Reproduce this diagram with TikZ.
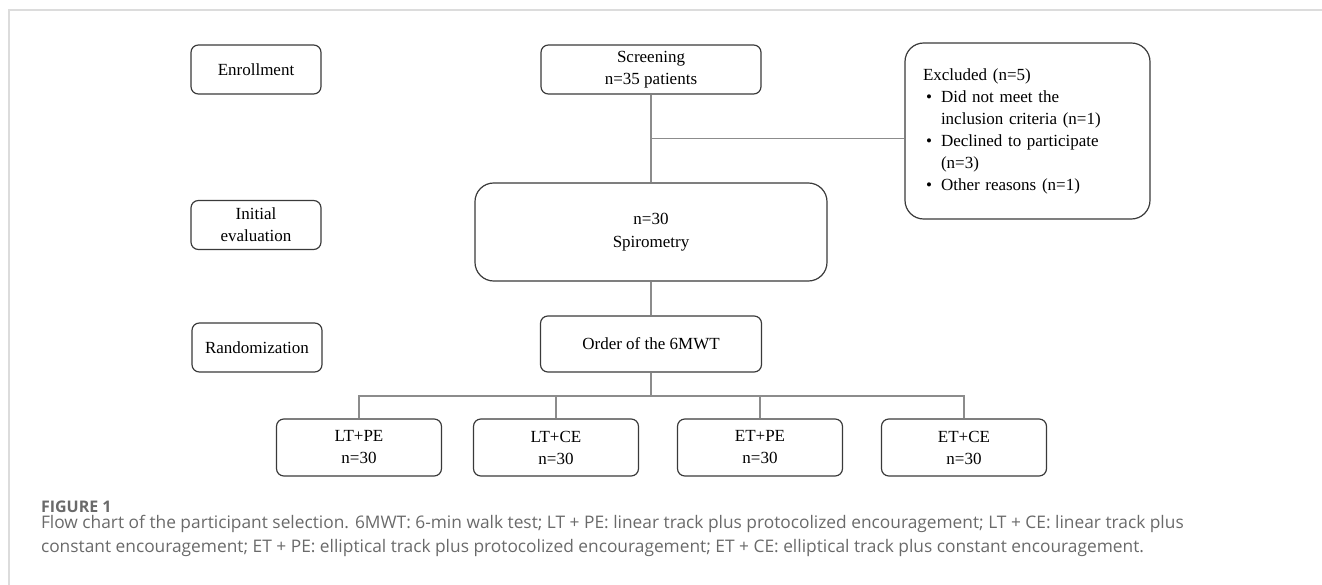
\documentclass[tikz,border=0pt]{standalone}
\usepackage{fontspec}
\setmainfont{Liberation Serif}
\newfontfamily\capfont{Open Sans}
\usepackage{tikz}
\usetikzlibrary{calc}
\definecolor{boxgrey}{HTML}{3A3A3A}
\definecolor{linkgrey}{HTML}{8C8C8C}
\definecolor{framegrey}{HTML}{DCDCDC}
\definecolor{capgrey}{HTML}{6A6A6A}
\newlength\pxu
\setlength\pxu{0.75pt}
\newcommand{\fN}{\fontsize{12.75}{16.5}\selectfont}
\newcommand{\fC}{\capfont\fontsize{13}{18}\selectfont}
\newcommand{\fF}{\capfont\fontsize{12}{14}\selectfont\bfseries}
\tikzset{every node/.style={font=\fN},
  stagebox/.style={draw=boxgrey,fill=white,line width=0.9pt,align=center,
    rounded corners=5.5pt,inner sep=0pt},
  bigbox/.style={stagebox,rounded corners=14pt},
  phase/.style={stagebox,minimum width=130\pxu,minimum height=49\pxu},
  arm/.style={stagebox,minimum width=165\pxu,minimum height=57\pxu},
  capt/.style={inner sep=0pt,outer sep=0pt,align=left,text=capgrey}}

\begin{document}
\begin{tikzpicture}[x=1\pxu,y=-1\pxu,
    link/.style={draw=linkgrey,line width=0.8pt}]
  \path[use as bounding box] (0,0) rectangle (1322,585);
  \draw[framegrey,line width=1.5pt] (9,585) -- (9,10) -- (1322,10);

  % phases on the left
  \node[phase] (enrol) at (256,69.5) {Enrollment};
  \node[phase] (initev) at (256,225) {Initial\\evaluation};
  \node[phase] (random) at (257,347.5) {Randomization};

  % main flow
  \node[stagebox,minimum width=220\pxu,minimum height=49\pxu] (screen) at (651,69.5)
    {Screening\\n=35 patients};
  \node[bigbox,minimum width=352\pxu,minimum height=98\pxu] (spiro) at (651,232)
    {n=30\\[1pt]Spirometry};
  \node[stagebox,minimum width=221\pxu,minimum height=56\pxu] (order) at (651,344)
    {Order of the 6MWT};
  \node[bigbox,minimum height=176\pxu,text width=209\pxu,align=left,inner xsep=18\pxu]
    (excl) at (1027.5,131)
    {\begin{tabular}{@{}p{18\pxu}@{}l@{}}
      \multicolumn{2}{@{}l@{}}{Excluded (n=5)}\\
      \hspace{3\pxu}\textbullet & Did not meet the\\
      & inclusion criteria (n=1)\\
      \hspace{3\pxu}\textbullet & Declined to participate\\
      & (n=3)\\
      \hspace{3\pxu}\textbullet & Other reasons (n=1)
    \end{tabular}};

  % the four arms
  \node[arm] (ltpe) at (359,447.5) {LT+PE\\n=30};
  \node[arm] (ltce) at (556,447.5) {LT+CE\\n=30};
  \node[arm] (etpe) at (760,447.5) {ET+PE\\n=30};
  \node[arm] (etce) at (964,447.5) {ET+CE\\n=30};

  % connectors
  \coordinate (exclbr) at ($(screen.south)!0.5!(spiro.north)$);
  \coordinate (split) at (651,396);
  \draw[link] (screen) -- (spiro);
  \draw[link] (exclbr) -- (exclbr -| excl.west);
  \draw[link] (spiro) -- (order);
  \draw[link] (order) -- (split);
  \draw[link] (ltpe.north) |- (split) -| (etce.north);
  \draw[link] (ltce.north) -- (ltce.north |- split);
  \draw[link] (etpe.north) -- (etpe.north |- split);

  % caption
  \node[capt,font=\fF,anchor=base west] (figlab) at (41,512) {FIGURE 1};
  \node[capt,font=\fC,anchor=north west] (figcap) at (41,515)
    {Flow chart of the participant selection. 6MWT: 6-min walk test; LT + PE: linear track plus protocolized encouragement; LT + CE: linear track plus\\
     constant encouragement; ET + PE: elliptical track plus protocolized encouragement; ET + CE: elliptical track plus constant encouragement.};
\end{tikzpicture}
\end{document}
